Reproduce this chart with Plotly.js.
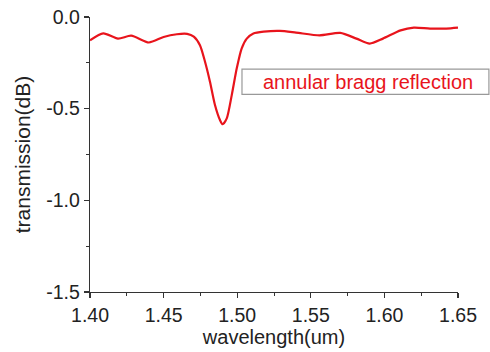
<!DOCTYPE html>
<html>
<head>
<meta charset="utf-8">
<script src="https://cdn.plot.ly/plotly-3.0.1.min.js"></script>
<style>
  html, body { margin: 0; padding: 0; background: #fff; }
  #chart { width: 490px; height: 352px; }
</style>
</head>
<body>
<div id="chart"></div>
<script>
// wavelength (um)
const wavelength = [1.400, 1.409, 1.419, 1.428, 1.440, 1.450, 1.459, 1.466, 1.4705, 1.4747, 1.4781, 1.4815, 1.4849, 1.4883, 1.4901, 1.4929, 1.4963, 1.4997, 1.503, 1.5065, 1.511, 1.518, 1.529, 1.540, 1.556, 1.570, 1.581, 1.590, 1.599, 1.611, 1.620, 1.631, 1.642, 1.650];
// transmission (dB)
const transmission = [-0.127, -0.089, -0.118, -0.102, -0.139, -0.109, -0.094, -0.092, -0.107, -0.154, -0.243, -0.353, -0.480, -0.562, -0.585, -0.553, -0.426, -0.280, -0.172, -0.118, -0.090, -0.080, -0.076, -0.085, -0.100, -0.087, -0.118, -0.145, -0.118, -0.073, -0.058, -0.063, -0.063, -0.058];
const seriesName = "annular bragg reflection";
const xTickVals = [1.40, 1.45, 1.50, 1.55, 1.60, 1.65];
const xTickText = ["1.40", "1.45", "1.50", "1.55", "1.60", "1.65"];
const yTickVals = [0, -0.5, -1.0, -1.5];
const yTickText = ["0.0", "-0.5", "-1.0", "-1.5"];

const font = "Liberation Sans, Arial, sans-serif";

const trace = {
  x: wavelength,
  y: transmission,
  type: "scatter",
  mode: "lines",
  name: seriesName,
  line: { color: "#e8141c", width: 2.2, shape: "spline", smoothing: 0.7 },
  hoverinfo: "skip"
};

const axisCommon = {
  showgrid: false,
  zeroline: false,
  showline: true,
  linecolor: "#333",
  linewidth: 1.3,
  ticks: "outside",
  ticklen: 5,
  tickwidth: 1.2,
  tickcolor: "#333",
  mirror: false,
  tickfont: { family: font, size: 19.5, color: "#222" }
};

const layout = {
  width: 490,
  height: 352,
  margin: { l: 90, r: 32, t: 17, b: 59.5 },
  paper_bgcolor: "#fff",
  plot_bgcolor: "#fff",
  showlegend: false,
  xaxis: Object.assign({}, axisCommon, {
    range: [1.40, 1.65],
    tickmode: "array",
    tickvals: xTickVals,
    ticktext: xTickText,
    minor: { ticks: "outside", ticklen: 3, tickwidth: 1, tickcolor: "#333", dtick: 0.025, tick0: 1.4 },
    title: { text: "wavelength(um)", font: { family: font, size: 20, color: "#222" }, standoff: 3 }
  }),
  yaxis: Object.assign({}, axisCommon, {
    range: [-1.5, 0],
    tickmode: "array",
    tickvals: yTickVals,
    ticktext: yTickText,
    minor: { ticks: "outside", ticklen: 3, tickwidth: 1, tickcolor: "#333", dtick: 0.25, tick0: 0 },
    title: { text: "transmission(dB)", font: { family: font, size: 21, color: "#222" }, standoff: 9 }
  }),
  shapes: [{
    type: "rect",
    xref: "paper", yref: "paper",
    x0: 0.413, x1: 1.084, y0: 0.7186, y1: 0.8104,
    line: { color: "#999", width: 1.2 },
    fillcolor: "rgba(255,255,255,0)"
  }],
  annotations: [{
    xref: "paper", yref: "paper",
    x: 0.7554, y: 0.764,
    xanchor: "center", yanchor: "middle",
    text: seriesName,
    showarrow: false,
    font: { family: font, size: 20, color: "#e8141c" }
  }]
};

Plotly.newPlot("chart", [trace], layout, { staticPlot: true, displayModeBar: false });
</script>
</body>
</html>
